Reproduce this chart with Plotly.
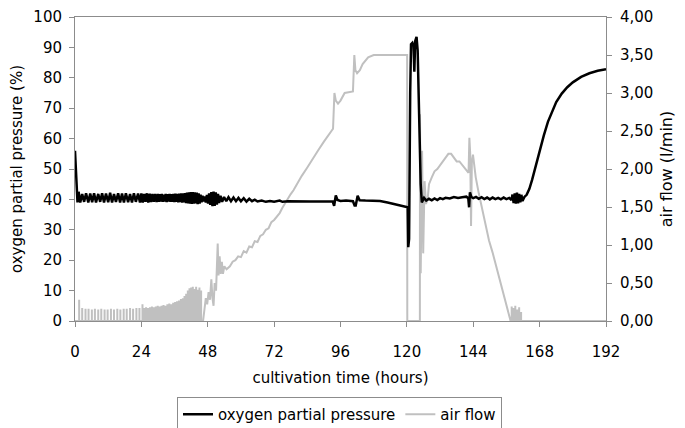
import plotly.graph_objects as go

# ---------------- data ----------------
# oxygen partial pressure (%), left axis
o2_time = [
    0.0, 0.4, 0.9, 1.3, 1.9, 2.6, 3.3, 4.0, 4.8, 5.5, 6.2, 6.9, 7.6, 8.4, 9.1, 9.8,
    10.5, 11.2, 12.0, 12.7, 13.4, 14.1, 14.8, 15.6, 16.3, 17.0, 17.7, 18.4, 19.2, 19.9,
    20.6, 21.3, 22.0, 22.8, 23.5,
    24.0, 24.5, 25.0, 25.5, 26.0, 26.5, 27.0, 27.5, 28.0, 28.5, 29.0, 29.5,
    30.0, 30.35, 30.7, 31.05, 31.4, 31.75, 32.1, 32.45, 32.8, 33.15, 33.5, 33.85, 34.2,
    34.55, 34.9, 35.25, 35.6, 35.95, 36.3, 36.65, 37.0, 37.35, 37.7, 38.05, 38.4, 38.75,
    39.1, 39.45, 39.8, 40.15, 40.5, 40.85, 41.2, 41.55, 41.9, 42.25, 42.6, 42.95, 43.3, 43.65,
    44.0, 44.35, 44.7, 45.05, 45.4, 45.75, 46.1, 46.5, 46.9, 47.3, 47.7, 48.1, 48.5, 48.9,
    49.3, 49.7, 50.1, 50.5, 50.9, 51.3, 51.7, 52.1, 52.6, 53.2, 53.9, 54.7, 55.5, 56.4,
    57.3, 58.2, 59.1, 60.0, 61.0, 62.0, 63.0, 64.0, 65.0, 66.0,
    67.5, 69.0, 70.5, 72.0, 74.0, 75.0, 77.0, 80.0, 85.0, 90.0, 93.2, 93.7, 94.3, 94.9,
    96.0, 98.0, 100.5, 101.1, 101.5, 102.2, 102.9, 105.0, 108.0, 110.3, 113.0, 116.0,
    119.0, 120.3, 120.5, 120.8, 121.2, 121.5, 122.0, 122.4, 122.7, 123.0, 123.5, 123.9,
    125.0, 125.4, 126.2, 127.0, 128.0, 129.0, 130.0, 131.0, 132.0, 133.0, 134.0, 135.5,
    137.0, 138.5, 140.0, 141.5, 142.2, 142.5, 142.8, 143.3, 144.0, 145.0, 146.0, 147.0,
    148.0, 149.0, 150.0, 151.0, 152.0, 153.0, 154.0, 155.0, 156.0, 157.0, 157.8, 158.2,
    158.6, 159.0, 159.4, 159.8, 160.2, 160.6, 161.0, 161.4, 161.8, 162.5, 163.3, 164.3,
    165.3, 166.3, 167.3, 168.3, 169.5, 171.0, 172.5, 174.0, 176.0, 178.0, 180.0, 183.0,
    186.0, 189.0, 192.0,
]
o2_value = [
    56.0, 47.0, 39.0, 42.5, 39.0, 41.8, 39.2, 42.0, 39.0, 41.9, 39.1, 42.0, 39.0, 41.8, 39.2, 42.0,
    39.0, 41.9, 39.1, 42.2, 39.0, 41.8, 39.2, 42.0, 39.0, 41.9, 39.0, 42.0, 39.1, 41.8,
    39.0, 42.0, 39.2, 41.9, 39.0,
    42.0, 39.0, 41.8, 39.2, 42.0, 39.0, 41.9, 39.1, 41.8, 39.2, 41.8, 39.1,
    41.8, 39.2, 41.7, 39.3, 41.8, 39.2, 41.6, 39.3, 41.8, 39.1, 41.7, 39.3, 41.8,
    39.2, 41.7, 39.2, 41.8, 39.1, 41.9, 39.2, 41.8, 39.0, 41.9, 39.1, 42.0, 38.9,
    42.0, 39.0, 42.1, 38.8, 42.2, 38.7, 42.3, 38.6, 42.4, 38.5, 42.4, 38.6, 42.3, 38.7,
    42.2, 38.4, 42.0, 38.6, 41.6, 39.0, 41.2, 39.3, 41.0, 39.0, 41.5, 38.6, 42.0, 38.2,
    42.4, 37.8, 42.6, 37.9, 42.3, 38.3, 41.8, 38.8, 41.2, 39.2, 40.8, 39.4, 40.7, 39.4,
    40.6, 39.4, 40.5, 39.4, 40.4, 39.3, 40.2, 39.4, 39.9, 39.3,
    39.6, 39.2, 39.5, 39.2, 39.6, 39.2, 39.4, 39.3, 39.3, 39.3, 39.3, 37.9, 41.3, 39.8,
    39.5, 39.6, 39.4, 38.0, 38.0, 41.2, 39.7, 39.6, 39.5, 39.5, 39.0, 38.4,
    37.8, 37.4, 24.3, 27.0, 75.0, 91.0, 91.5, 90.5, 82.0, 92.0, 93.5, 89.0,
    45.0, 39.0, 40.5, 39.6, 40.2, 39.7, 40.3, 39.8, 40.4, 40.1, 40.5, 40.3,
    40.8, 40.5, 40.7, 40.9, 40.4, 37.4, 42.3, 40.8, 40.4, 40.8, 40.2, 40.7,
    40.1, 40.6, 40.0, 40.6, 40.1, 40.5, 40.0, 40.6, 40.1, 40.5, 39.8, 41.6,
    38.8, 42.0, 38.6, 42.2, 38.7, 41.8, 39.0, 41.5, 39.5, 40.8, 41.5, 43.5,
    46.5, 50.0, 53.5, 57.0, 61.0, 65.5, 69.0, 72.0, 74.8, 76.9, 78.5, 80.3,
    81.5, 82.3, 82.8,
]

# air flow (l/min), right axis: on/off pulses at the start ...
pulse_time = [
    1.5, 2.6, 3.8, 4.9, 6.1, 7.2, 8.4, 9.5, 10.7, 11.8, 13.0, 14.1, 15.3, 16.4, 17.6,
    18.7, 19.9, 21.0, 22.2, 23.3, 24.4,
    25.0, 25.7, 26.4, 27.1, 27.8, 28.5, 29.2, 29.9, 30.6, 31.3, 32.0, 32.7, 33.4, 34.1,
    34.8, 35.5, 36.2, 36.9, 37.6, 38.3, 39.0, 39.6, 40.2, 40.8, 41.4, 42.0, 42.6, 43.2,
    43.8, 44.4, 45.0, 45.6,
]
pulse_peak = [
    0.28, 0.17, 0.16, 0.16, 0.15, 0.16, 0.15, 0.16, 0.15, 0.15, 0.16, 0.15, 0.16, 0.15, 0.16,
    0.16, 0.17, 0.16, 0.17, 0.17, 0.22,
    0.17, 0.18, 0.17, 0.18, 0.19, 0.18, 0.19, 0.20, 0.19, 0.20, 0.21, 0.20, 0.22, 0.23,
    0.22, 0.24, 0.25, 0.26, 0.27, 0.29, 0.30, 0.33, 0.36, 0.40, 0.43, 0.44, 0.45, 0.42,
    0.45, 0.41, 0.44, 0.40,
]
# ... then a continuous flow ...
air_time = [
    46.3, 46.8, 47.3, 47.8, 48.3, 48.8, 49.3, 49.7, 50.1, 50.5, 51.0, 51.6, 51.9, 52.3,
    52.7, 53.1, 53.5, 54.0, 54.8, 56.0, 57.0, 58.0, 59.0, 60.0, 61.0, 62.0, 63.0, 64.0,
    65.0, 66.0, 67.0, 68.0, 69.0, 70.0, 71.0, 72.0, 73.0, 74.0, 75.0, 76.0, 77.0, 78.0,
    79.0, 80.0, 82.0, 84.0, 86.0, 88.0, 90.0, 92.0, 93.3, 93.8, 94.3, 95.1, 96.0, 97.5,
    100.5, 101.0, 101.4, 102.0, 103.0, 104.0, 105.0, 106.0, 108.0, 120.1, 120.15, 124.7,
    124.75, 125.0, 125.5, 125.9, 126.4, 126.9, 127.5, 128.0, 129.0, 130.0, 131.0, 132.0,
    133.0, 134.0, 135.0, 136.0, 137.0, 138.0, 139.0, 140.0, 141.0, 142.3, 142.6, 142.9,
    143.2, 143.5, 143.9, 144.9, 146.0, 147.3, 148.5, 149.7, 151.0, 152.1, 153.3, 154.5,
    155.7, 156.9, 157.5,
]
air_value = [
    0.00, 0.15, 0.30, 0.22, 0.38, 0.28, 0.55, 0.30, 0.20, 0.50, 0.40, 1.02, 0.60, 0.85,
    0.62, 0.78, 0.62, 0.72, 0.68, 0.72, 0.78, 0.80, 0.85, 0.84, 0.92, 0.90, 0.98, 0.97,
    1.05, 1.04, 1.12, 1.14, 1.20, 1.22, 1.30, 1.33, 1.38, 1.42, 1.49, 1.55, 1.62, 1.67,
    1.72, 1.79, 1.91, 2.02, 2.14, 2.25, 2.36, 2.46, 2.53, 3.00, 2.90, 2.86, 2.90, 3.00,
    3.02, 3.50, 3.30, 3.26, 3.30, 3.38, 3.42, 3.47, 3.50, 3.50, 0.00, 0.00,
    2.72, 0.63, 2.24, 0.89, 1.84, 1.54, 1.60, 1.80, 1.89, 1.97, 2.00, 2.05,
    2.10, 2.15, 2.20, 2.20, 2.15, 2.10, 2.10, 2.05, 2.00, 1.95, 2.41, 2.20,
    1.25, 2.10, 2.19, 1.89, 1.68, 1.45, 1.25, 1.06, 0.90, 0.75, 0.58, 0.41,
    0.25, 0.10, 0.00,
]
# ... and a few last pulses before the flow is switched off
end_pulse_time = [157.9, 158.5, 159.2, 159.9, 160.6, 161.3]
end_pulse_peak = [0.19, 0.17, 0.20, 0.15, 0.18, 0.12]
end_time = 192.0

# ---------------- build the air-flow polyline ----------------
air_x, air_y = [0.0], [0.0]
for t, p in zip(pulse_time, pulse_peak):
    air_x += [t, t, t]
    air_y += [0.0, p, 0.0]
air_x += air_time
air_y += air_value
for t, p in zip(end_pulse_time, end_pulse_peak):
    air_x += [t, t, t]
    air_y += [0.0, p, 0.0]
air_x.append(end_time)
air_y.append(0.0)

FONT = "DejaVu Sans"
FS = 15
AXIS_GREY = "#8c8c8c"

# the page body adds an 8 px offset, so the figure is 8 px smaller than the window
W, H = 677, 420

fig = go.Figure()
fig.add_trace(go.Scatter(
    x=air_x, y=air_y, name="air flow", mode="lines",
    line=dict(color="#c0c0c0", width=2), yaxis="y", legendrank=2,
))
fig.add_trace(go.Scatter(
    x=o2_time, y=o2_value, name="oxygen partial pressure", mode="lines",
    line=dict(color="#000000", width=2.5), yaxis="y2", legendrank=1,
))

fig.update_layout(
    width=W, height=H,
    margin=dict(l=67, r=79, t=9, b=107, pad=0, autoexpand=False),
    paper_bgcolor="white", plot_bgcolor="white",
    separators=",.",
    font=dict(family=FONT, size=FS, color="#000000"),
    showlegend=True,
    legend=dict(
        orientation="h", xref="container", yref="container",
        x=331.5 / W, xanchor="center", y=(H - 389) / H, yanchor="top",
        bordercolor=AXIS_GREY, borderwidth=1, bgcolor="white",
        font=dict(family=FONT, size=FS),
        tracegroupgap=0,
    ),
    xaxis=dict(
        range=[0, 192], tickmode="array", tickvals=[0, 24, 48, 72, 96, 120, 144, 168, 192],
        ticks="outside", ticklen=5, tickcolor=AXIS_GREY, tickfont=dict(size=FS),
        ticklabelstandoff=12, ticklabeloverflow="allow",
        showline=True, linecolor=AXIS_GREY, linewidth=1, mirror=True,
        showgrid=False, zeroline=False, automargin=False,
        title=dict(text="cultivation time (hours)", standoff=12, font=dict(size=FS)),
    ),
    yaxis=dict(
        side="right", range=[0, 4], dtick=0.5, tickformat=".2f",
        ticks="outside", ticklen=5, tickcolor=AXIS_GREY, tickfont=dict(size=FS),
        ticklabelstandoff=5, ticklabeloverflow="allow",
        showline=True, linecolor=AXIS_GREY, linewidth=1,
        showgrid=False, zeroline=False, automargin=False,
        title=dict(text="air flow (l/min)", standoff=8, font=dict(size=16)),
    ),
    yaxis2=dict(
        overlaying="y", side="left", range=[0, 100], dtick=10,
        ticks="outside", ticklen=5, tickcolor=AXIS_GREY, tickfont=dict(size=FS),
        ticklabelstandoff=4, ticklabeloverflow="allow",
        showline=True, linecolor=AXIS_GREY, linewidth=1,
        showgrid=False, zeroline=False, automargin=False,
        title=dict(text="oxygen partial pressure (%)", standoff=12, font=dict(size=FS)),
    ),
)

fig.write_html("out.html")
